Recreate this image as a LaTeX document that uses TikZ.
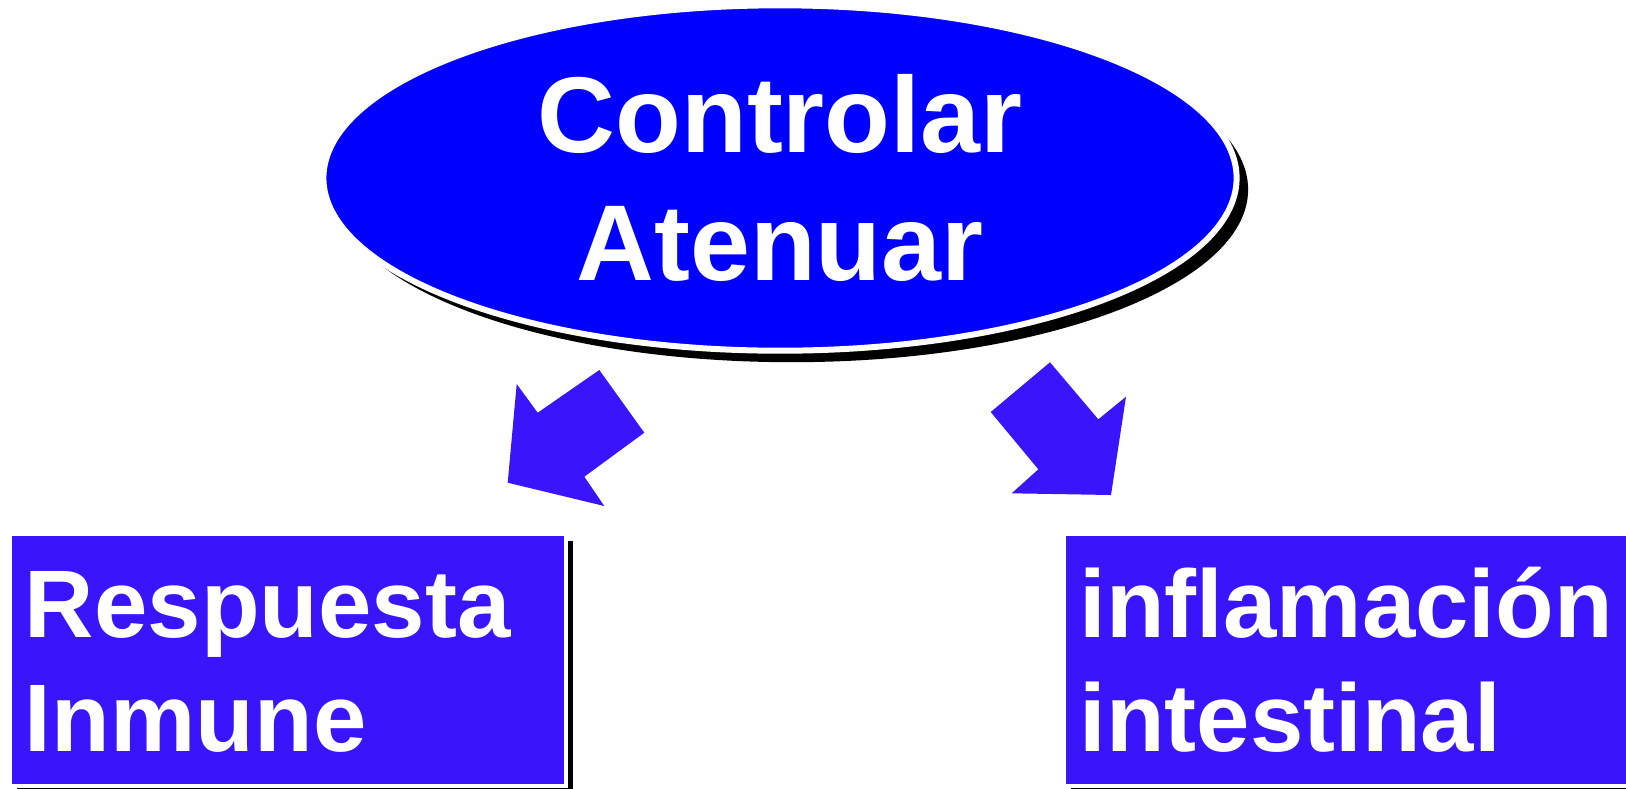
\documentclass[tikz,border=0pt]{standalone}
\usepackage{fontspec}
\setmainfont{Liberation Sans}
\usetikzlibrary{shapes.geometric,shadows,positioning}
\definecolor{pureblue}{RGB}{0,0,255}
\definecolor{boxblue}{RGB}{58,20,250}

\begin{document}
\begin{tikzpicture}[x=0.5pt, y=-0.5pt,
  bigoval/.style={ellipse, fill=pureblue, draw=white, line width=3pt,
    minimum width=456.6pt, minimum height=172.7pt, align=center, text=white,
    font=\fontsize{53.9}{64.3}\selectfont\bfseries,
    drop shadow={fill=black, opacity=1, shadow xshift=5.75pt, shadow yshift=-5.75pt}},
  bluebox/.style={rectangle, fill=boxblue, draw=white, line width=2pt, anchor=north west,
    minimum height=125.85pt, inner xsep=7.75pt, inner ysep=0pt,
    text height=35pt, text depth=57pt, align=left, text=white,
    font=\fontsize{48}{57}\selectfont\bfseries,
    drop shadow={fill=black, opacity=1, shadow xshift=3.5pt, shadow yshift=-3.5pt}},
  blockarrow/.style={fill=boxblue}]
  \useasboundingbox (0,0) rectangle (1626,788);
  \clip (0,0) rectangle (1626,788);

  % Oval
  \node[bigoval] (control) at (780,178) {Controlar\\Atenuar};

  % Boxes
  \node[bluebox, text width=262.5pt] (respuesta) at (7.5,532) {Respuesta\\Inmune};
  \node[bluebox, text width=284.5pt] (inflamacion) at (1062,532) {inflamación\\intestinal};

  % Block arrows
  \fill[blockarrow] (599.3,370) -- (644.3,432.7) -- (584.3,476.7) -- (604.3,506)
    -- (507.7,482.7) -- (516.7,384) -- (537.7,412.7) -- cycle;
  \fill[blockarrow] (990.7,412) -- (1050,362.3) -- (1098.3,419.3) -- (1126,396.7)
    -- (1111,495) -- (1011.7,493.3) -- (1038.3,469.3) -- cycle;
\end{tikzpicture}
\end{document}
